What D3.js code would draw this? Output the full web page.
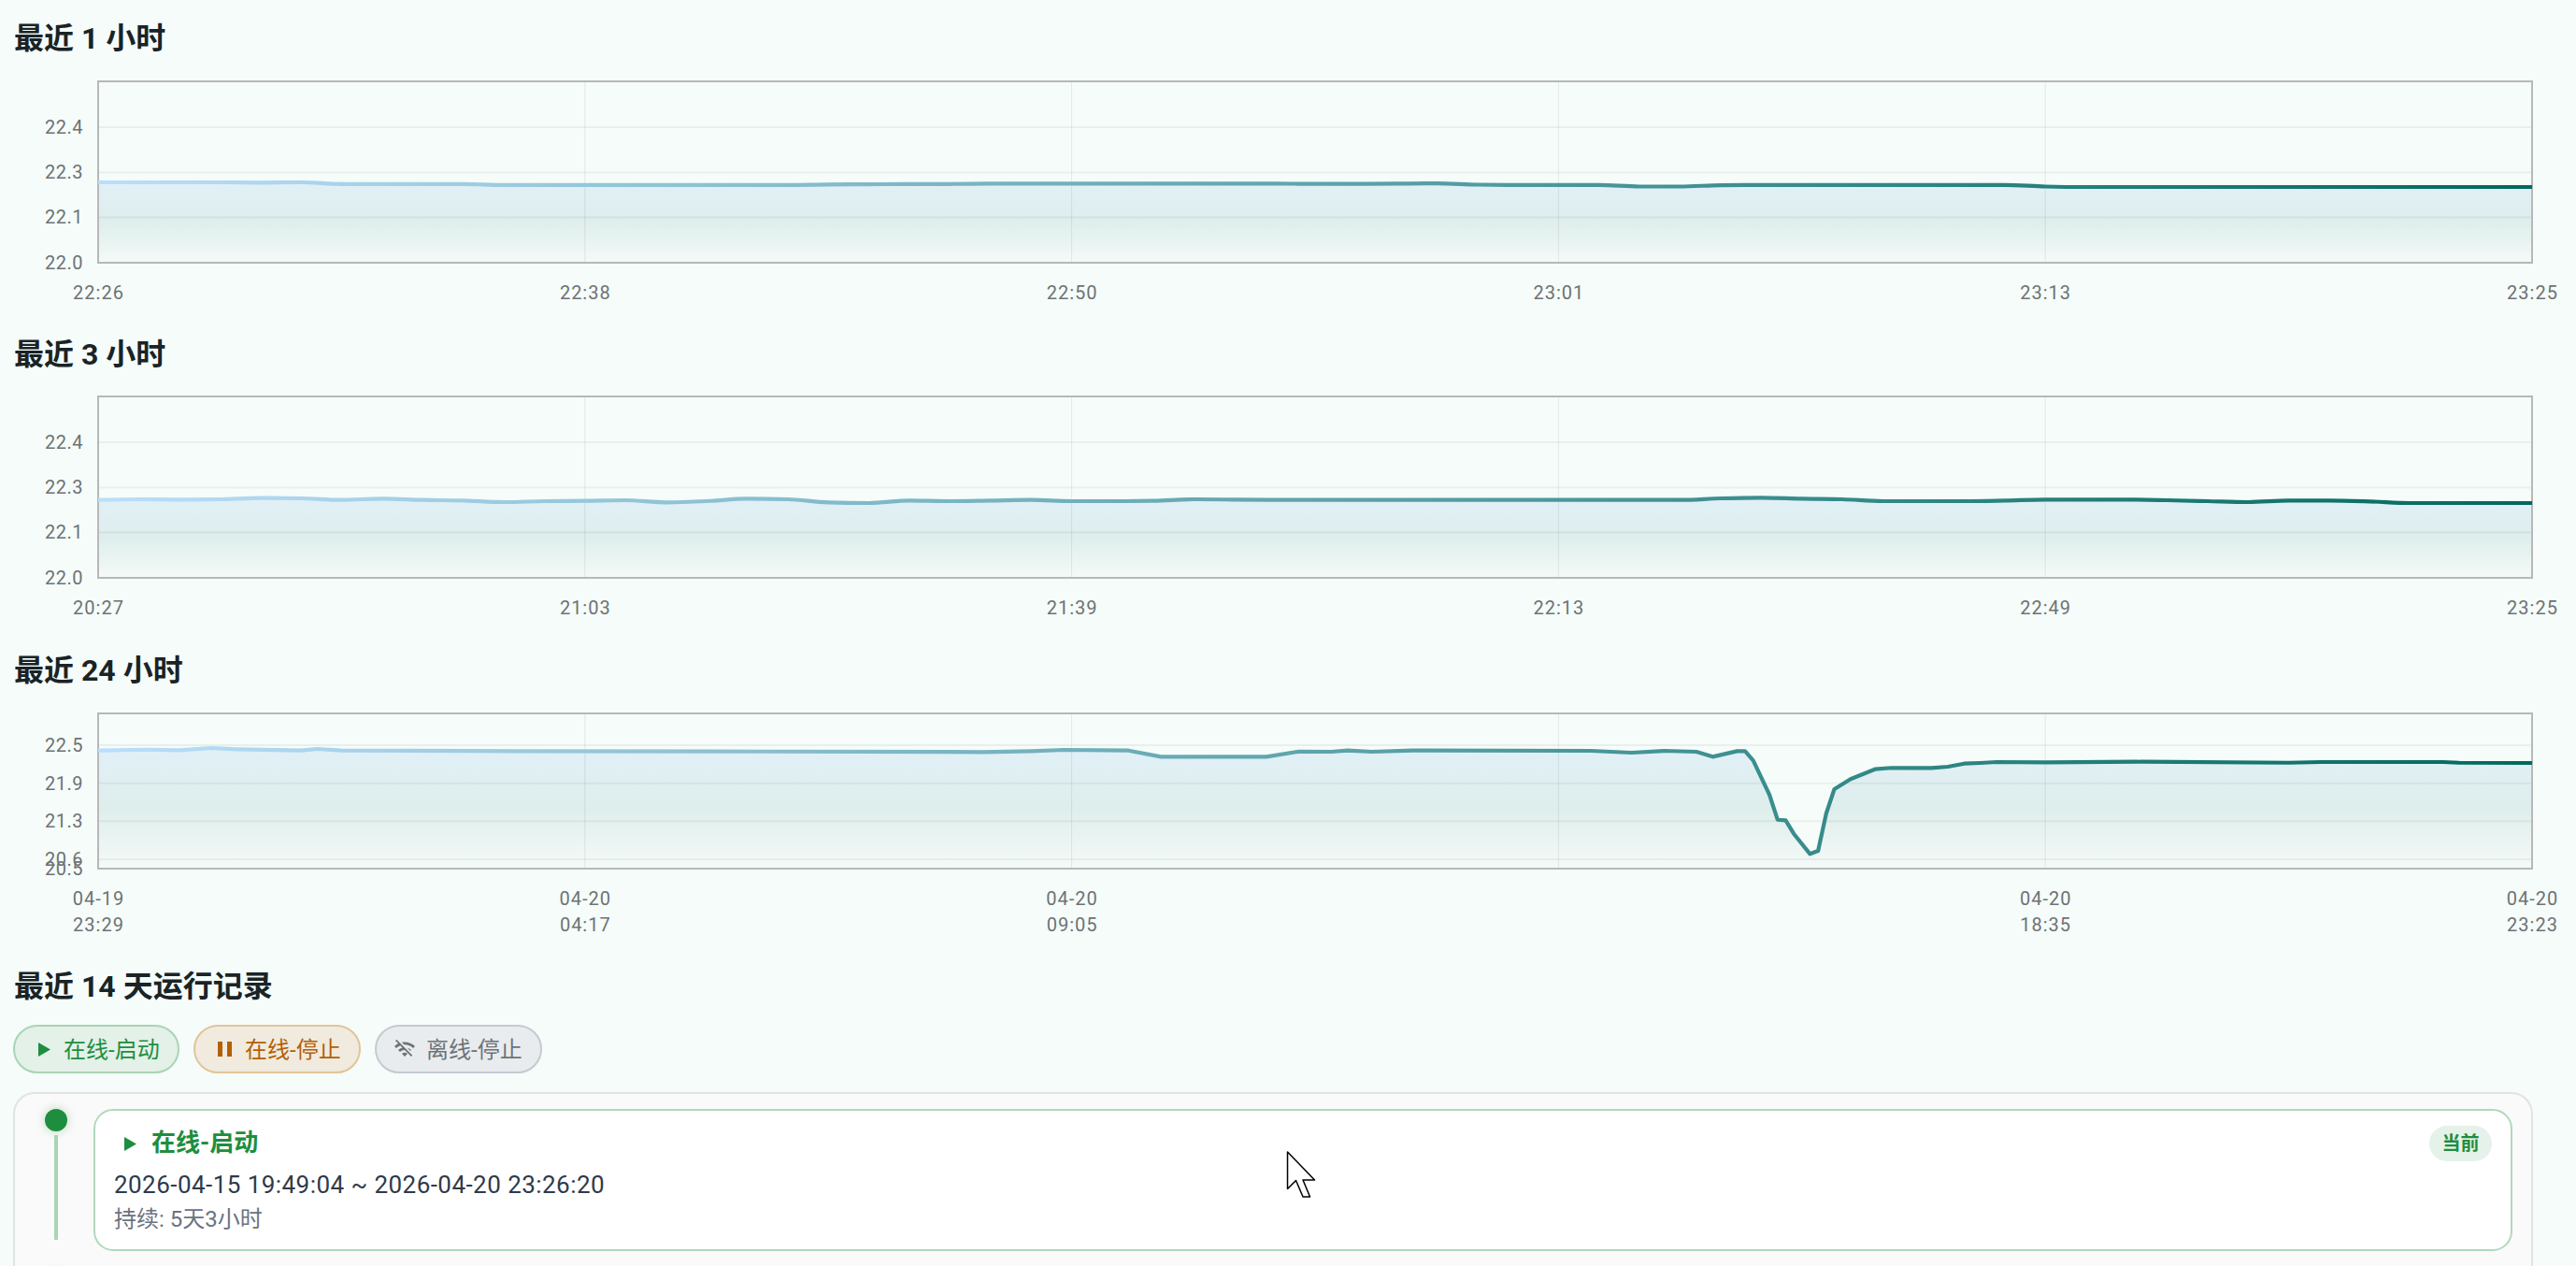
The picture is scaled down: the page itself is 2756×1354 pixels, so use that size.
<!DOCTYPE html>
<html>
<head>
<meta charset="utf-8">
<script src="https://cdn.jsdelivr.net/npm/d3@7"></script>
<style>
    html, body { margin: 0; padding: 0; background: #f5fcf9; overflow: hidden; }
    svg { display: block; }
    text { font-family: Roboto, "Noto Sans CJK SC", sans-serif; }
</style>
</head>
<body>
<svg id="page"></svg>
<script>
const pageWidth = 2756;
const pageHeight = 1354;

// 最近 1 小时
const values1h = [22.239, 22.239, 22.239, 22.239, 22.238, 22.239, 22.234, 22.234, 22.234, 22.234,
    22.231, 22.231, 22.231, 22.231, 22.231, 22.231, 22.231, 22.231, 22.2325, 22.233,
    22.234, 22.234, 22.235, 22.235, 22.235, 22.235, 22.235, 22.235, 22.235, 22.235,
    22.2345, 22.2345, 22.235, 22.236, 22.232, 22.231, 22.231, 22.231, 22.2265, 22.2265,
    22.2305, 22.231, 22.231, 22.231, 22.231, 22.231, 22.231, 22.231, 22.2265, 22.225,
    22.225, 22.225, 22.225, 22.225, 22.225, 22.225, 22.225, 22.225, 22.225, 22.225, 22.225];
const labels1h = ["22:26", "22:38", "22:50", "23:01", "23:13", "23:25"];

// 最近 3 小时
const values3h = [22.2315, 22.2334, 22.2324, 22.2334, 22.2371, 22.2361, 22.2315, 22.2352, 22.2315, 22.2296,
    22.2250, 22.2278, 22.2287, 22.2306, 22.2241, 22.2278, 22.2352, 22.2334, 22.2241, 22.2222,
    22.2296, 22.2278, 22.2296, 22.2315, 22.2278, 22.2278, 22.2287, 22.2334, 22.2324, 22.2315,
    22.2315, 22.2315, 22.2315, 22.2315, 22.2315, 22.2315, 22.2315, 22.2315, 22.2315, 22.2315,
    22.2361, 22.2380, 22.2352, 22.2334, 22.2278, 22.2278, 22.2278, 22.2296, 22.2324, 22.2324,
    22.2324, 22.2306, 22.2278, 22.2250, 22.2296, 22.2296, 22.2269, 22.2222, 22.2222, 22.2222, 22.2222];
const labels3h = ["20:27", "21:03", "21:39", "22:13", "22:49", "23:25"];

// 最近 24 小时（采样点较密，只记录读得出变化的位置）
const slots24h = [0, 6, 10, 14, 17, 25, 27, 30, 51, 82, 109, 115, 119, 127, 131, 144, 148, 152, 154, 157, 162,
    184, 189, 193, 197, 199, 202, 203, 204, 206, 207, 208, 209, 211, 212, 213, 214, 216, 219, 221,
    226, 228, 230, 232, 234, 240, 252, 270, 274, 289, 291, 300];
const values24h = [22.442, 22.457, 22.447, 22.484, 22.463, 22.442, 22.468, 22.442, 22.432, 22.426, 22.417, 22.432, 22.453, 22.442, 22.339, 22.339, 22.426, 22.422, 22.442, 22.422, 22.442,
    22.437, 22.406, 22.437, 22.422, 22.339, 22.432, 22.432, 22.277, 21.709, 21.295, 21.286, 21.063, 20.728, 20.779, 21.399, 21.802, 21.968, 22.132, 22.154,
    22.154, 22.174, 22.225, 22.236, 22.251, 22.246, 22.256, 22.240, 22.251, 22.251, 22.240, 22.236];
const labels24h = [["04-19", "23:29"], ["04-20", "04:17"], ["04-20", "09:05"], ["", ""], ["04-20", "18:35"], ["04-20", "23:23"]];

const yTicksShort = [22.0, 22.135, 22.268, 22.403];
const yTicksLong = [20.485, 20.64, 21.27, 21.9, 22.53];

const statusLabels = ["在线-启动", "在线-停止", "离线-停止"];

const green = "#1e8e3e";
const plotLeft = 105;
const plotRight = 2709;

const svg = d3.select("#page")
    .attr("width", pageWidth)
    .attr("height", pageHeight)
    .attr("viewBox", [0, 0, pageWidth, pageHeight]);

const defs = svg.append("defs");

function title(text, y) {
    svg.append("text")
        .attr("x", 15)
        .attr("y", y)
        .attr("dy", "0.36em")
        .attr("fill", "#1a2326")
        .attr("font-size", 32)
        .attr("font-weight", 700)
        .text(text);
}

function drawChart(opt) {
    const id = opt.id;
    const x = d3.scaleLinear().domain([0, opt.slotCount]).range([plotLeft, plotRight]);
    const y = d3.scaleLinear().domain(opt.yDomain).range([opt.bottom, opt.top]);
    const slotTicks = d3.range(0, opt.slotCount + 1, opt.slotCount / 5);
    const points = opt.values.map((v, i) => [x(opt.slots ? opt.slots[i] : i), y(v)]);
    const lineTop = d3.min(points, d => d[1]);

    // 折线是横向渐变，面积是纵向渐变
    const lineGrad = defs.append("linearGradient")
        .attr("id", `line-${id}`)
        .attr("gradientUnits", "userSpaceOnUse")
        .attr("x1", plotLeft).attr("x2", plotRight).attr("y1", 0).attr("y2", 0);
    lineGrad.append("stop").attr("offset", 0).attr("stop-color", "#bbdefb");
    lineGrad.append("stop").attr("offset", 1).attr("stop-color", "#00695c");

    const areaGrad = defs.append("linearGradient")
        .attr("id", `area-${id}`)
        .attr("gradientUnits", "userSpaceOnUse")
        .attr("x1", 0).attr("x2", 0).attr("y1", lineTop).attr("y2", opt.bottom);
    areaGrad.append("stop").attr("offset", 0).attr("stop-color", "#e1f0f7");
    areaGrad.append("stop").attr("offset", 0.5).attr("stop-color", "#deeeec");
    areaGrad.append("stop").attr("offset", 1).attr("stop-color", "#f5faf8");

    const curve = opt.slots ? d3.curveLinear : d3.curveMonotoneX;

    svg.append("path")
        .datum(points)
        .attr("fill", `url(#area-${id})`)
        .attr("d", d3.area().x(d => d[0]).y0(opt.bottom).y1(d => d[1]).curve(curve));

    // 网格线
    svg.append("g").selectAll("line")
        .data(opt.yTicks.slice(1))
        .join("line")
        .attr("x1", plotLeft).attr("x2", plotRight)
        .attr("y1", d => y(d)).attr("y2", d => y(d))
        .attr("stroke", "#000")
        .attr("stroke-opacity", 0.05)
        .attr("stroke-width", 2);
    svg.append("g").selectAll("line")
        .data(slotTicks.slice(1, -1))
        .join("line")
        .attr("x1", d => x(d)).attr("x2", d => x(d))
        .attr("y1", opt.top).attr("y2", opt.bottom)
        .attr("stroke", "#000")
        .attr("stroke-opacity", 0.08)
        .attr("stroke-width", 1);

    svg.append("rect")
        .attr("x", plotLeft).attr("y", opt.top)
        .attr("width", plotRight - plotLeft).attr("height", opt.bottom - opt.top)
        .attr("fill", "none")
        .attr("stroke", "#b8b8b8")
        .attr("stroke-width", 2);

    svg.append("path")
        .datum(points)
        .attr("fill", "none")
        .attr("stroke", `url(#line-${id})`)
        .attr("stroke-width", 4.2)
        .attr("stroke-linejoin", "round")
        .attr("d", d3.line().curve(curve));

    // y 轴
    svg.append("g")
        .attr("transform", `translate(${plotLeft},0)`)
        .call(d3.axisLeft(y).tickValues(opt.yTicks).tickSize(0).tickPadding(16).tickFormat(d3.format(".1f")))
        .call(g => g.select(".domain").remove())
        .call(g => g.selectAll("text")
            .attr("fill", "#6e7275")
            .attr("font-size", 20)
            .attr("letter-spacing", 0.5)
            .attr("font-family", null));

    // x 轴，标签可能是两行
    svg.append("g")
        .attr("transform", `translate(0,${opt.bottom})`)
        .call(d3.axisBottom(x).tickValues(slotTicks).tickSize(0).tickFormat(""))
        .call(g => g.select(".domain").remove())
        .call(g => g.selectAll("text")
            .attr("fill", "#6e7275")
            .attr("font-size", 20)
            .attr("letter-spacing", 1)
            .attr("font-family", null)
            .attr("y", opt.labelY)
            .attr("dy", null)
            .each(function (d, i) {
                const lines = [].concat(opt.labels[i]);
                d3.select(this).selectAll("tspan")
                    .data(lines)
                    .join("tspan")
                    .attr("x", 0)
                    .attr("dy", (t, k) => k === 0 ? 0 : 28)
                    .text(t => t);
            }));
}

title("最近 1 小时", 40);
drawChart({
    id: "h1", top: 87, bottom: 281, slotCount: 60,
    yDomain: [22, 22.539], yTicks: yTicksShort,
    values: values1h, labels: labels1h, labelY: 39
});

title("最近 3 小时", 378);
drawChart({
    id: "h3", top: 424, bottom: 618, slotCount: 60,
    yDomain: [22, 22.539], yTicks: yTicksShort,
    values: values3h, labels: labels3h, labelY: 39
});

title("最近 24 小时", 716);
drawChart({
    id: "h24", top: 763, bottom: 929, slotCount: 300, slots: slots24h,
    yDomain: [20.485, 23.057], yTicks: yTicksLong,
    values: values24h, labels: labels24h, labelY: 39
});

title("最近 14 天运行记录", 1054);

// 状态图例
const playIcon = "M0 0L13 7.5L0 15Z";
const pauseIcon = "M0 0H5V16H0ZM10 0H15V16H10Z";
const wifiOffIcon = "M22.99 9C19.15 5.16 13.8 3.76 8.84 4.78l2.52 2.52c3.47-.17 6.99 1.05 9.63 3.7l2-2zm-4 4c-1.29-1.29-2.84-2.13-4.48-2.56l3.53 3.53.95-.97zM2 3.05L5.07 6.1C3.6 6.82 2.22 7.78 1 9l1.99 2c1.24-1.24 2.67-2.16 4.2-2.77l2.24 2.24C7.81 10.89 6.27 11.73 5 13v.01L6.99 15c1.36-1.36 3.14-2.04 4.92-2.06L18.98 20l1.27-1.26L3.29 1.79 2 3.05zM9 17l3 3 3-3c-1.65-1.66-4.34-1.66-6 0z";

const pills = [
    { x: 15, w: 176, fill: "#e3f1e8", stroke: "#a8d5b5", color: green, icon: playIcon, ix: 41, iy: 1115, tx: 68 },
    { x: 208, w: 177, fill: "#f0ebde", stroke: "#e2c49a", color: "#b45f06", icon: pauseIcon, ix: 233, iy: 1114, tx: 262 },
    { x: 402, w: 177, fill: "#e8ecee", stroke: "#c4cad0", color: "#6e7378", icon: wifiOffIcon, ix: 421, iy: 1110, tx: 456 }
];

pills.forEach((p, i) => {
    svg.append("rect")
        .attr("x", p.x).attr("y", 1097)
        .attr("width", p.w).attr("height", 50)
        .attr("rx", 25)
        .attr("fill", p.fill)
        .attr("stroke", p.stroke)
        .attr("stroke-width", 2);
    svg.append("path")
        .attr("transform", `translate(${p.ix},${p.iy})`)
        .attr("d", p.icon)
        .attr("fill", p.color);
    svg.append("text")
        .attr("x", p.tx).attr("y", 1122)
        .attr("dy", "0.36em")
        .attr("font-size", 24)
        .attr("fill", p.color)
        .text(statusLabels[i]);
});

// 记录面板，底部被截断
svg.append("rect")
    .attr("x", 15).attr("y", 1169)
    .attr("width", 2694).attr("height", 260)
    .attr("rx", 22)
    .attr("fill", "#fafafa")
    .attr("stroke", "#e2e2e2")
    .attr("stroke-width", 2);

const blur = defs.append("filter").attr("id", "glow")
    .attr("x", "-100%").attr("y", "-100%").attr("width", "300%").attr("height", "300%");
blur.append("feGaussianBlur").attr("stdDeviation", 5);

svg.append("circle").attr("cx", 60).attr("cy", 1198).attr("r", 14)
    .attr("fill", green).attr("opacity", 0.2).attr("filter", "url(#glow)");
svg.append("circle").attr("cx", 60).attr("cy", 1198).attr("r", 12).attr("fill", green);
svg.append("rect").attr("x", 58).attr("y", 1214).attr("width", 4).attr("height", 112).attr("fill", "#a8d5b5");
svg.append("circle").attr("cx", 60).attr("cy", 1372).attr("r", 14)
    .attr("fill", "#b45f06").attr("opacity", 0.1).attr("filter", "url(#glow)");

svg.append("rect")
    .attr("x", 101).attr("y", 1187)
    .attr("width", 2586).attr("height", 150)
    .attr("rx", 20)
    .attr("fill", "#fff")
    .attr("stroke", "#b0d9bb")
    .attr("stroke-width", 2);

svg.append("path").attr("transform", "translate(133,1216)").attr("d", playIcon).attr("fill", green);
svg.append("text")
    .attr("x", 162).attr("y", 1222).attr("dy", "0.36em")
    .attr("font-size", 26).attr("font-weight", 700).attr("fill", green)
    .text(statusLabels[0]);
svg.append("text")
    .attr("x", 122).attr("y", 1267).attr("dy", "0.36em")
    .attr("font-size", 26).attr("letter-spacing", 0.45).attr("fill", "#2f3a4a")
    .text("2026-04-15 19:49:04 ~ 2026-04-20 23:26:20");
svg.append("text")
    .attr("x", 122).attr("y", 1303).attr("dy", "0.36em")
    .attr("font-size", 24).attr("fill", "#6b7280")
    .text("持续: 5天3小时");

svg.append("rect")
    .attr("x", 2599).attr("y", 1204)
    .attr("width", 67).attr("height", 38)
    .attr("rx", 19)
    .attr("fill", "#e5f2ea");
svg.append("text")
    .attr("x", 2632.5).attr("y", 1223).attr("dy", "0.36em")
    .attr("text-anchor", "middle")
    .attr("font-size", 20).attr("font-weight", 700).attr("fill", green)
    .text("当前");

// 截图里带上的鼠标指针
svg.append("path")
    .attr("d", "M1377.5 1232V1271.5L1386.5 1262.5L1394 1280H1401.5L1394 1262H1406.5Z")
    .attr("fill", "#fff")
    .attr("stroke", "#000")
    .attr("stroke-width", 1.5)
    .attr("stroke-linejoin", "round");
</script>
</body>
</html>
